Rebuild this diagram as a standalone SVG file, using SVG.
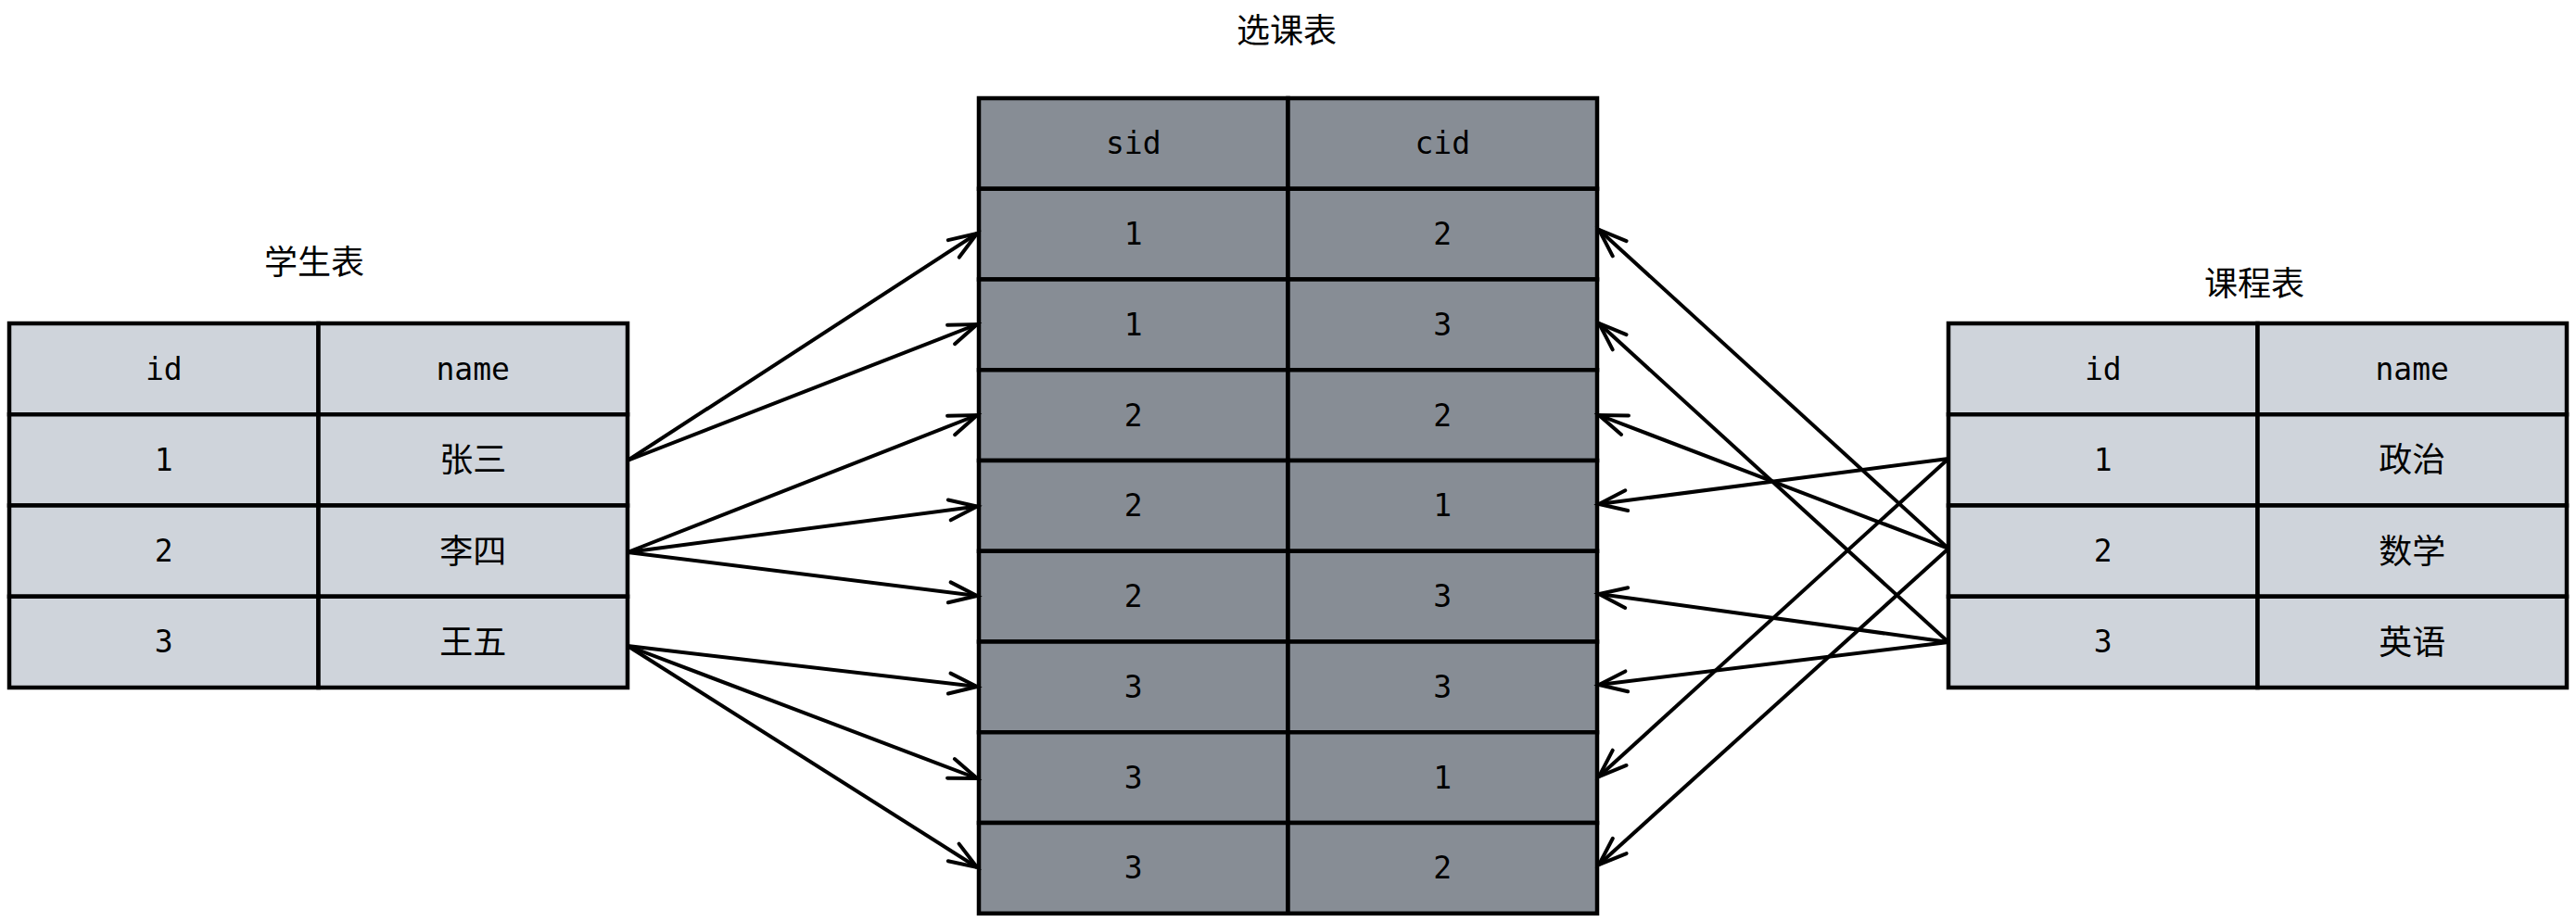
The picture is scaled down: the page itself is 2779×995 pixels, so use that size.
<svg xmlns="http://www.w3.org/2000/svg" width="2779" height="995" viewBox="0 0 2779 995">
<style>
.light{fill:#cfd4db;stroke:#000;stroke-width:4.5}
.dark{fill:#878d95;stroke:#000;stroke-width:4.5}
.t{font-family:"DejaVu Sans Mono","Liberation Mono","Noto Sans CJK SC",monospace;font-size:33px;fill:#000;text-anchor:middle}
.c{font-family:"Noto Sans CJK SC","Noto Sans",sans-serif;font-size:36px;fill:#000;text-anchor:middle;dominant-baseline:central}
.title{font-family:"Noto Sans CJK SC","Noto Sans",sans-serif;font-size:36px;fill:#000;text-anchor:middle;dominant-baseline:central}
.conn line{stroke:#000;stroke-width:4;fill:none;marker-end:url(#open)}
</style>
<defs>
<marker id="open" markerUnits="userSpaceOnUse" viewBox="-36 -16 40 32" markerWidth="40" markerHeight="32" refX="0" refY="0" orient="auto" overflow="visible">
<path d="M-30,-11 L0,0 L-30,11" fill="none" stroke="#000" stroke-width="4" stroke-linejoin="miter" stroke-linecap="round"/>
</marker>
</defs>
<rect width="2779" height="995" fill="#fff"/>

<g id="student">
<text class="title" x="339" y="280">学生表</text>
<rect class="light" x="10" y="349" width="333.5" height="98.25"/>
<rect class="light" x="343.5" y="349" width="333.5" height="98.25"/>
<rect class="light" x="10" y="447.25" width="333.5" height="98.25"/>
<rect class="light" x="343.5" y="447.25" width="333.5" height="98.25"/>
<rect class="light" x="10" y="545.5" width="333.5" height="98.25"/>
<rect class="light" x="343.5" y="545.5" width="333.5" height="98.25"/>
<rect class="light" x="10" y="643.75" width="333.5" height="98.25"/>
<rect class="light" x="343.5" y="643.75" width="333.5" height="98.25"/>
<text class="t" x="176.75" y="409.5">id</text>
<text class="t" x="510.25" y="409.5">name</text>
<text class="t" x="176.75" y="507.5">1</text>
<text class="c" x="510.25" y="493.4">张三</text>
<text class="t" x="176.75" y="605.7">2</text>
<text class="c" x="510.25" y="591.6">李四</text>
<text class="t" x="176.75" y="704">3</text>
<text class="c" x="510.25" y="689.9">王五</text>
</g>

<g id="selection">
<text class="title" x="1388" y="30">选课表</text>
<rect class="dark" x="1056" y="106" width="333.5" height="97.75"/>
<rect class="dark" x="1389.5" y="106" width="333.5" height="97.75"/>
<rect class="dark" x="1056" y="203.75" width="333.5" height="97.75"/>
<rect class="dark" x="1389.5" y="203.75" width="333.5" height="97.75"/>
<rect class="dark" x="1056" y="301.5" width="333.5" height="97.75"/>
<rect class="dark" x="1389.5" y="301.5" width="333.5" height="97.75"/>
<rect class="dark" x="1056" y="399.25" width="333.5" height="97.75"/>
<rect class="dark" x="1389.5" y="399.25" width="333.5" height="97.75"/>
<rect class="dark" x="1056" y="497" width="333.5" height="97.75"/>
<rect class="dark" x="1389.5" y="497" width="333.5" height="97.75"/>
<rect class="dark" x="1056" y="594.75" width="333.5" height="97.75"/>
<rect class="dark" x="1389.5" y="594.75" width="333.5" height="97.75"/>
<rect class="dark" x="1056" y="692.5" width="333.5" height="97.75"/>
<rect class="dark" x="1389.5" y="692.5" width="333.5" height="97.75"/>
<rect class="dark" x="1056" y="790.25" width="333.5" height="97.75"/>
<rect class="dark" x="1389.5" y="790.25" width="333.5" height="97.75"/>
<rect class="dark" x="1056" y="888" width="333.5" height="97.75"/>
<rect class="dark" x="1389.5" y="888" width="333.5" height="97.75"/>
<text class="t" x="1222.75" y="166.4">sid</text>
<text class="t" x="1556.25" y="166.4">cid</text>
<text class="t" x="1222.75" y="264.1">1</text>
<text class="t" x="1556.25" y="264.1">2</text>
<text class="t" x="1222.75" y="361.9">1</text>
<text class="t" x="1556.25" y="361.9">3</text>
<text class="t" x="1222.75" y="459.6">2</text>
<text class="t" x="1556.25" y="459.6">2</text>
<text class="t" x="1222.75" y="557.4">2</text>
<text class="t" x="1556.25" y="557.4">1</text>
<text class="t" x="1222.75" y="655.1">2</text>
<text class="t" x="1556.25" y="655.1">3</text>
<text class="t" x="1222.75" y="752.9">3</text>
<text class="t" x="1556.25" y="752.9">3</text>
<text class="t" x="1222.75" y="850.6">3</text>
<text class="t" x="1556.25" y="850.6">1</text>
<text class="t" x="1222.75" y="948.4">3</text>
<text class="t" x="1556.25" y="948.4">2</text>
</g>

<g id="course">
<text class="title" x="2432" y="303">课程表</text>
<rect class="light" x="2102" y="349" width="333.5" height="98.25"/>
<rect class="light" x="2435.5" y="349" width="333.5" height="98.25"/>
<rect class="light" x="2102" y="447.25" width="333.5" height="98.25"/>
<rect class="light" x="2435.5" y="447.25" width="333.5" height="98.25"/>
<rect class="light" x="2102" y="545.5" width="333.5" height="98.25"/>
<rect class="light" x="2435.5" y="545.5" width="333.5" height="98.25"/>
<rect class="light" x="2102" y="643.75" width="333.5" height="98.25"/>
<rect class="light" x="2435.5" y="643.75" width="333.5" height="98.25"/>
<text class="t" x="2268.75" y="409.5">id</text>
<text class="t" x="2602.25" y="409.5">name</text>
<text class="t" x="2268.75" y="507.5">1</text>
<text class="c" x="2602.25" y="493.4">政治</text>
<text class="t" x="2268.75" y="605.7">2</text>
<text class="c" x="2602.25" y="591.6">数学</text>
<text class="t" x="2268.75" y="704">3</text>
<text class="c" x="2602.25" y="689.9">英语</text>
</g>

<g id="connectors" class="conn">
<line x1="677" y1="497" x2="1054" y2="252"/>
<line x1="677" y1="497" x2="1054" y2="350"/>
<line x1="677" y1="596" x2="1054" y2="448"/>
<line x1="677" y1="596" x2="1054" y2="546.5"/>
<line x1="677" y1="596" x2="1054" y2="643"/>
<line x1="677" y1="697" x2="1054" y2="741"/>
<line x1="677" y1="697" x2="1054" y2="840"/>
<line x1="677" y1="697" x2="1054" y2="936"/>
<line x1="2102" y1="592" x2="1725" y2="248"/>
<line x1="2102" y1="693" x2="1725" y2="349"/>
<line x1="2102" y1="592" x2="1725" y2="448"/>
<line x1="2102" y1="495" x2="1725" y2="544"/>
<line x1="2102" y1="693" x2="1725" y2="641"/>
<line x1="2102" y1="693" x2="1725" y2="739"/>
<line x1="2102" y1="495" x2="1725" y2="838"/>
<line x1="2102" y1="592" x2="1725" y2="933"/>
</g>
</svg>
